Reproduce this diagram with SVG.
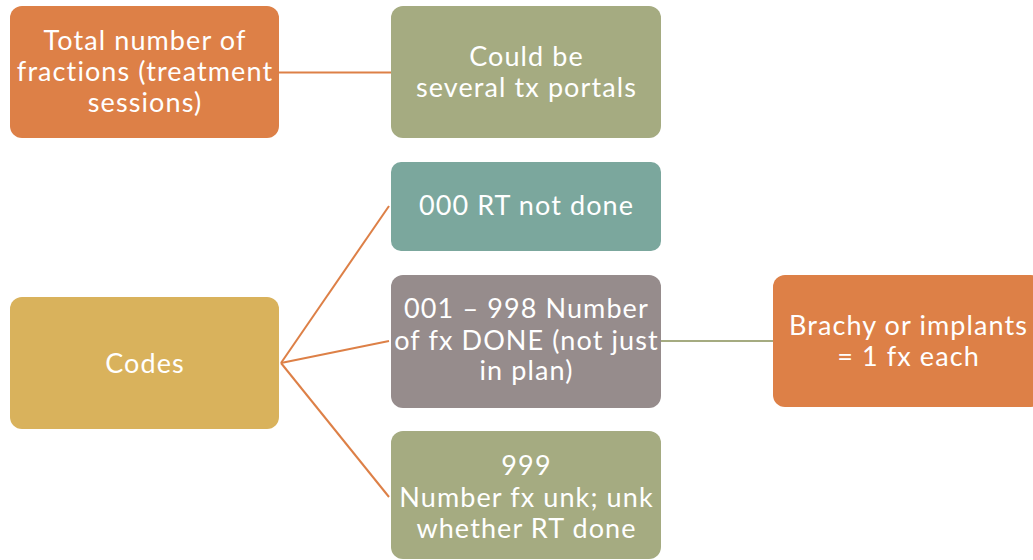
<svg xmlns="http://www.w3.org/2000/svg" width="1033" height="560" viewBox="0 0 1033 560">
<style>
.t{font-family:Lato,"Liberation Sans",sans-serif;font-size:27px;letter-spacing:1.1px;fill:#fff;text-anchor:middle}
.ln{fill:none;stroke-width:2}
</style>
<rect width="1033" height="560" fill="#fff"/>
<g id="connectors">
<line class="ln" stroke="#DD8047" x1="279" y1="72.5" x2="391" y2="72.5"/>
<line class="ln" stroke="#DD8047" x1="281" y1="363" x2="389" y2="206"/>
<line class="ln" stroke="#DD8047" x1="281" y1="363" x2="389" y2="341"/>
<line class="ln" stroke="#DD8047" x1="281" y1="363" x2="389" y2="497"/>
<line class="ln" stroke="#A5AB81" x1="661" y1="341" x2="773" y2="341"/>
</g>
<g id="n-total"><rect x="10" y="6" width="269" height="132" rx="12" fill="#DD8047"/>
<text class="t" x="145" y="50">Total number of</text><text class="t" x="145" y="81">fractions (treatment</text><text class="t" x="145" y="112">sessions)</text></g>
<g id="n-could"><rect x="391" y="6" width="270" height="132" rx="12" fill="#A5AB81"/>
<text class="t" x="526.5" y="66">Could be</text><text class="t" x="526.5" y="97">several tx portals</text></g>
<g id="n-000"><rect x="391" y="162" width="270" height="89" rx="10" fill="#7BA79D"/>
<text class="t" x="526.5" y="215">000 RT not done</text></g>
<g id="n-001"><rect x="391" y="275" width="270" height="133" rx="12" fill="#968C8C"/>
<text class="t" x="526.5" y="318">001 – 998 Number</text><text class="t" x="526.5" y="350">of fx DONE (not just</text><text class="t" x="526.5" y="380">in plan)</text></g>
<g id="n-999"><rect x="391" y="431" width="270" height="128" rx="12" fill="#A5AB81"/>
<text class="t" x="526.5" y="475">999</text><text class="t" x="526.5" y="507">Number fx unk; unk</text><text class="t" x="526.5" y="538">whether RT done</text></g>
<g id="n-codes"><rect x="10" y="297" width="269" height="132" rx="12" fill="#D9B25C"/>
<text class="t" x="145" y="373">Codes</text></g>
<g id="n-brachy"><rect x="773" y="275" width="270" height="132" rx="12" fill="#DD8047"/>
<text class="t" x="908.5" y="335">Brachy or implants</text><text class="t" x="908.5" y="366">= 1 fx each</text></g>
</svg>
